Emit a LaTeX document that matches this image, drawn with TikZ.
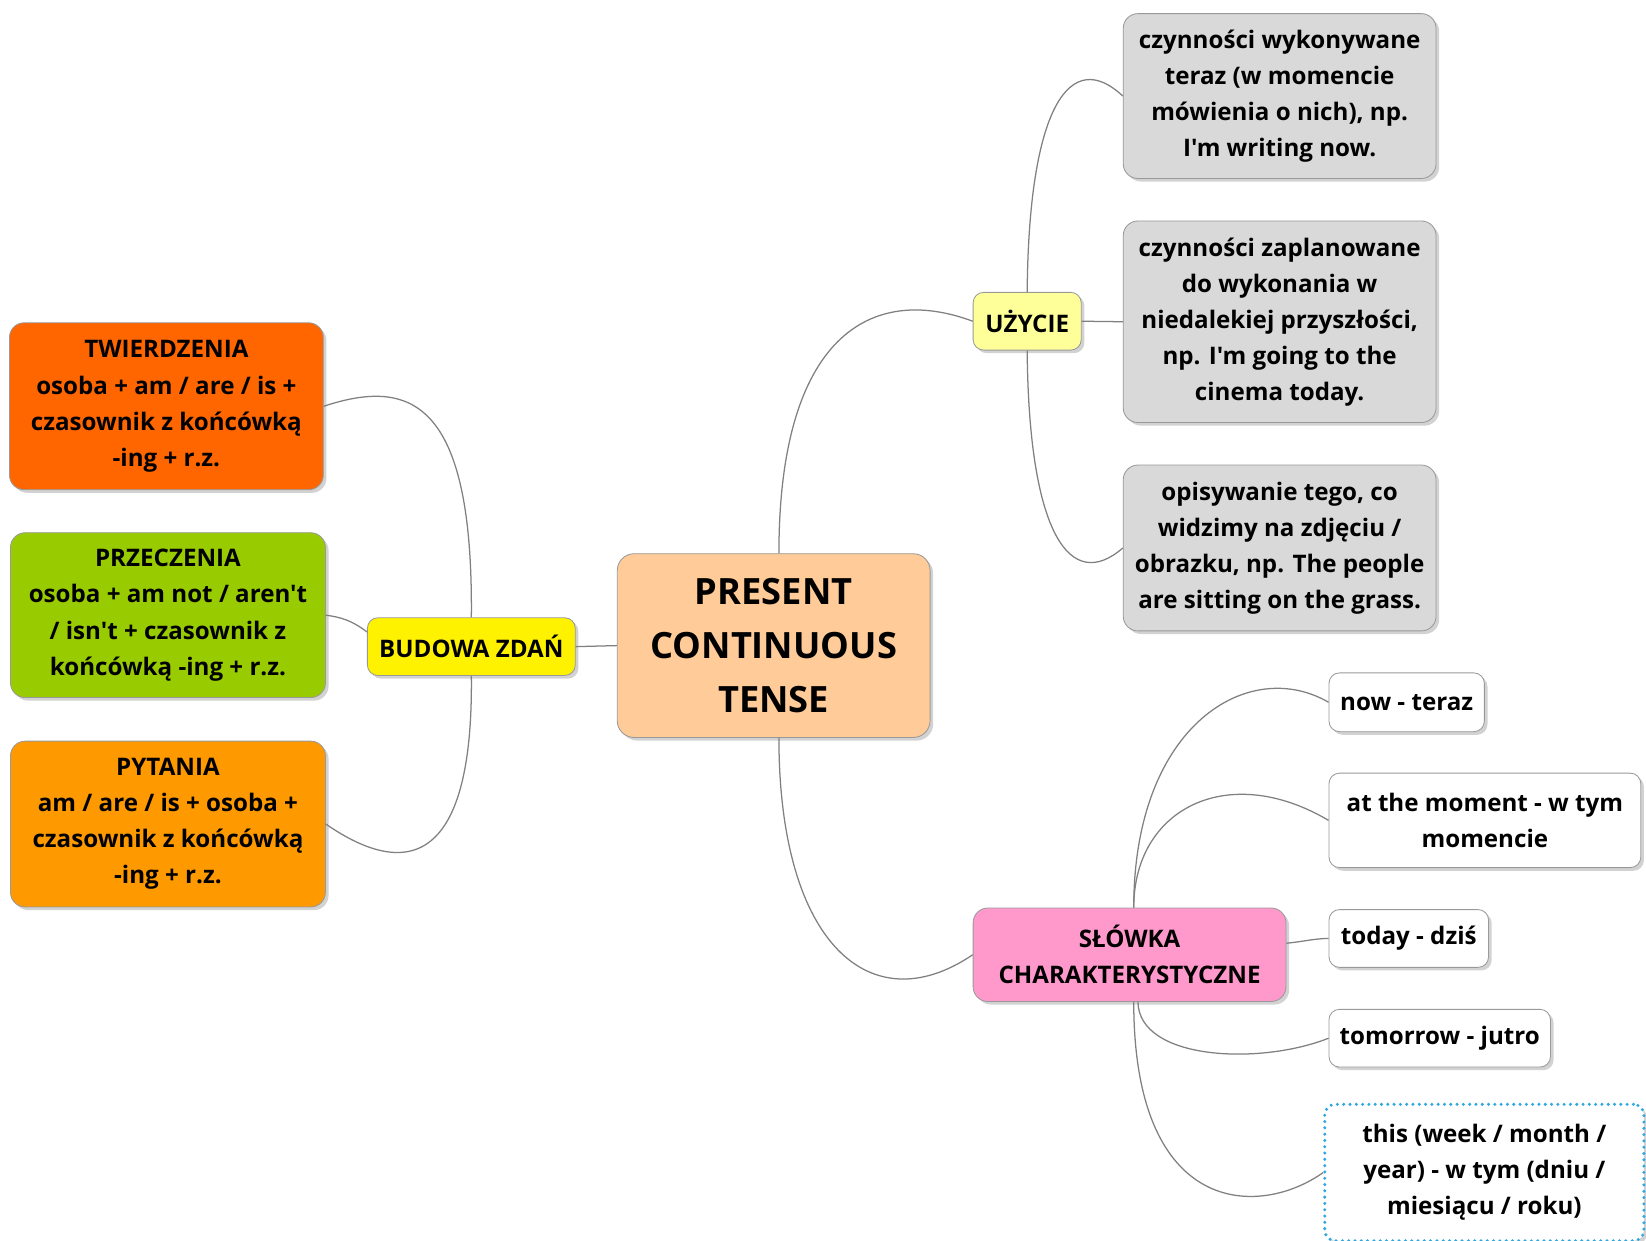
\documentclass[tikz,border=0pt]{standalone}
\usepackage{fontspec}
\setmainfont{Open Sans}[Ligatures=TeXOff]
\usetikzlibrary{shadows}
\definecolor{peach}{HTML}{FFCC99}
\definecolor{twcol}{HTML}{FF6600}
\definecolor{przcol}{HTML}{99CC00}
\definecolor{pytcol}{HTML}{FF9900}
\definecolor{uzcol}{HTML}{FFFF99}
\definecolor{slcol}{HTML}{FF99CC}
\definecolor{usecol}{HTML}{D9D9D9}
\definecolor{dotcol}{HTML}{2FA8E0}

\begin{document}
\begin{tikzpicture}
    [x=1pt,y=-1pt,
     every node/.style={rounded corners=14pt,draw=black!40,line width=0.8pt,
       align=center,inner sep=0pt,fill=white,
       font=\fontsize{23}{34.3}\selectfont\bfseries,
       drop shadow={shadow xshift=3pt,shadow yshift=-3pt,fill=black!35}},
     small/.style={rounded corners=10pt},
     link/.style={draw=black!50,line width=1.2pt}]
    \useasboundingbox (0,0) rectangle (1568,1182);
    \node[fill=peach,minimum width=298pt,minimum height=175pt,rounded corners=16pt,
      font=\fontsize{34.5}{51.5}\selectfont\bfseries] (pct) at (737,615) {PRESENT\\CONTINUOUS\\TENSE};
    \node[small,fill=yellow,minimum width=198pt,minimum height=55pt] (bud) at (449,616) {BUDOWA ZDAŃ};
    \node[fill=twcol,minimum width=299pt,minimum height=159pt] (tw) at (158.5,387)
      {TWIERDZENIA\\osoba + am / are / is +\\czasownik z końcówką\\-ing + r.z.};
    \node[fill=przcol,minimum width=300pt,minimum height=157pt] (prz) at (160,586)
      {PRZECZENIA\\osoba + am not / aren't\\/ isn't + czasownik z\\końcówką -ing + r.z.};
    \node[fill=pytcol,minimum width=300pt,minimum height=158pt] (pyt) at (160,785)
      {PYTANIA\\am / are / is + osoba +\\czasownik z końcówką\\-ing + r.z.};
    \node[small,fill=uzcol,minimum width=103pt,minimum height=55pt] (uz) at (978.5,306) {UŻYCIE};
    \node[fill=usecol,minimum width=298pt,minimum height=157pt] (u1) at (1219,91.5)
      {czynności wykonywane\\teraz (w momencie\\mówienia o nich), np.\\I'm writing now.};
    \node[fill=usecol,minimum width=298pt,minimum height=192pt] (u2) at (1219,306.5)
      {czynności zaplanowane\\do wykonania w\\niedalekiej przyszłości,\\np. I'm going to the\\cinema today.};
    \node[fill=usecol,minimum width=298pt,minimum height=158pt] (u3) at (1219,522)
      {opisywanie tego, co\\widzimy na zdjęciu /\\obrazku, np. The people\\are sitting on the grass.};
    \node[fill=slcol,minimum width=298pt,minimum height=89pt] (sl) at (1076,909.5)
      {SŁÓWKA\\CHARAKTERYSTYCZNE};
    \node[small,minimum width=148pt,minimum height=56pt] (s1) at (1340,669) {now - teraz};
    \node[small,minimum width=297pt,minimum height=90pt] (s2) at (1414.5,781.5) {at the moment - w tym\\momencie};
    \node[small,minimum width=152pt,minimum height=55pt] (s3) at (1342,894) {today - dziś};
    \node[small,minimum width=211pt,minimum height=55pt] (s4) at (1371.5,989) {tomorrow - jutro};
    \node[small,draw=dotcol,line width=3.2pt,line cap=round,dash pattern=on 0pt off 6pt,
      minimum width=304pt,minimum height=130pt] (s5) at (1414,1117)
      {this (week / month /\\year) - w tym (dniu /\\miesiącu / roku)};
    % left branch
    \draw[link] (pct.west) -- (bud.east);
    \draw[link] (bud.north) .. controls (451,380) and (390,360) .. (tw.east);
    \draw[link] ([yshift=14pt]bud.west) .. controls (335,591) and (325,588) .. (prz.east);
    \draw[link] (bud.south) .. controls (451,820) and (390,840) .. (pyt.east);
    % right branch
    \draw[link] ([xshift=5pt]pct.north) .. controls (742,320) and (830,270) .. (uz.west);
    \draw[link] ([xshift=5pt]pct.south) .. controls (742,900) and (830,975) .. (sl.west);
    \draw[link] (uz.north) .. controls (980,100) and (1020,45) .. (u1.west);
    \draw[link] (uz.east) -- (u2.west);
    \draw[link] (uz.south) .. controls (980,510) and (1020,565) .. (u3.west);
    \draw[link] ([xshift=4pt]sl.north) .. controls (1080,690) and (1190,625) .. (s1.west);
    \draw[link] ([xshift=4pt]sl.north) .. controls (1080,770) and (1170,725) .. (s2.west);
    \draw[link] ([yshift=11pt]sl.east) .. controls (1242,897) and (1252,894) .. (s3.west);
    \draw[link] ([xshift=8pt]sl.south) .. controls (1085,1010) and (1200,1015) .. (s4.west);
    \draw[link] ([xshift=4pt]sl.south) .. controls (1080,1160) and (1200,1160) .. (s5.west);
  \end{tikzpicture}
\end{document}
